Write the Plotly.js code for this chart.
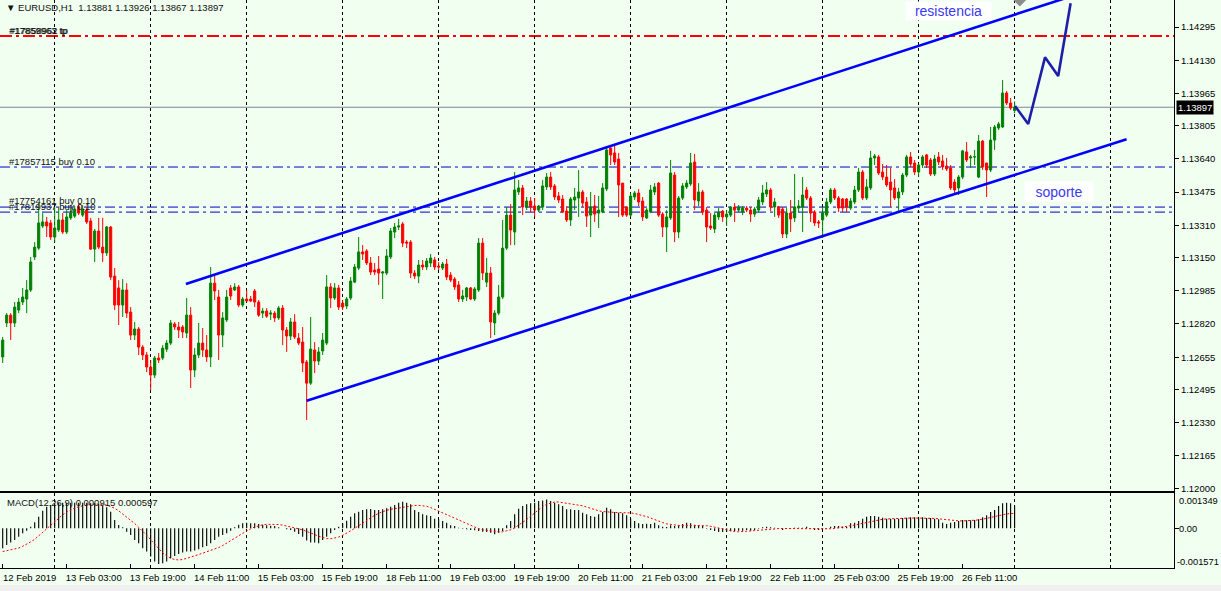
<!DOCTYPE html>
<html><head><meta charset="utf-8">
<script src="https://cdn.plot.ly/plotly-3.0.1.min.js"></script>
<style>html,body{margin:0;padding:0;background:#F0FFF0;overflow:hidden}</style>
</head><body><div id="chart" style="width:1221px;height:591px"></div>
<script>
// ---- EURUSD H1 candles (bar 0 = 12 Feb 2019 11:00) ----
const openPrices = [
1.12656,1.12825,1.12864,1.12825,1.12889,1.12929,1.12944,1.12989,1.13153,1.13197,
1.13307,1.13327,1.13322,1.13252,1.13287,1.13337,1.13277,1.13347,1.13356,1.13401,
1.13361,1.13386,1.13332,1.13192,1.13282,1.13202,1.13173,1.13302,1.13058,1.12999,
1.12914,1.12989,1.12879,1.12765,1.12795,1.12705,1.12666,1.12606,1.12566,1.12651,
1.12651,1.12695,1.12725,1.12820,1.12805,1.12805,1.12775,1.12864,1.12591,1.12666,
1.12725,1.12691,1.12656,1.13023,1.12954,1.12765,1.12840,1.12999,1.12989,1.13004,
1.12914,1.12944,1.12944,1.12984,1.12929,1.12874,1.12884,1.12869,1.12874,1.12850,
1.12899,1.12790,1.12760,1.12830,1.12750,1.12730,1.12631,1.12526,1.12691,1.12636,
1.12686,1.12725,1.13004,1.12949,1.12999,1.12924,1.12909,1.12949,1.13028,1.13098,
1.13178,1.13183,1.13123,1.13088,1.13093,1.13073,1.13073,1.13153,1.13277,1.13302,
1.13317,1.13227,1.13227,1.13073,1.13058,1.13113,1.13103,1.13123,1.13138,1.13108,
1.13098,1.13118,1.13063,1.13043,1.13014,1.12944,1.12954,1.12999,1.12944,1.12989,
1.13222,1.13028,1.13073,1.12825,1.12874,1.12954,1.13197,1.13361,1.13277,1.13476,
1.13496,1.13401,1.13431,1.13406,1.13386,1.13401,1.13501,1.13550,1.13506,1.13456,
1.13441,1.13381,1.13337,1.13436,1.13446,1.13476,1.13426,1.13361,1.13406,1.13371,
1.13376,1.13491,1.13694,1.13670,1.13640,1.13520,1.13401,1.13361,1.13451,1.13471,
1.13431,1.13347,1.13376,1.13476,1.13520,1.13366,1.13302,1.13347,1.13560,1.13277,
1.13446,1.13501,1.13516,1.13625,1.13431,1.13476,1.13386,1.13307,1.13292,1.13352,
1.13381,1.13352,1.13361,1.13401,1.13386,1.13376,1.13396,1.13386,1.13366,1.13386,
1.13426,1.13466,1.13486,1.13401,1.13401,1.13391,1.13267,1.13371,1.13347,1.13396,
1.13401,1.13486,1.13446,1.13376,1.13327,1.13337,1.13361,1.13426,1.13486,1.13446,
1.13441,1.13441,1.13396,1.13426,1.13486,1.13575,1.13446,1.13496,1.13645,1.13650,
1.13575,1.13550,1.13525,1.13496,1.13446,1.13476,1.13560,1.13650,1.13620,1.13575,
1.13610,1.13660,1.13635,1.13565,1.13650,1.13630,1.13605,1.13595,1.13525,1.13496,
1.13550,1.13675,1.13645,1.13650,1.13550,1.13729,1.13620,1.13585,1.13734,1.13794,
1.13799,1.13968,1.13918,1.13881];
const highPrices = [
1.12755,1.12874,1.12874,1.12929,1.12949,1.12999,1.13038,1.13153,1.13227,1.13421,
1.13371,1.13352,1.13337,1.13401,1.13401,1.13371,1.13386,1.13396,1.13406,1.13421,
1.13411,1.13401,1.13347,1.13292,1.13347,1.13347,1.13307,1.13307,1.13098,1.13038,
1.13043,1.13023,1.12904,1.12830,1.12805,1.12715,1.12681,1.12641,1.12661,1.12676,
1.12715,1.12740,1.12840,1.12830,1.12830,1.12815,1.12949,1.12904,1.12700,1.12825,
1.12800,1.12765,1.13103,1.13063,1.12989,1.12879,1.12989,1.13014,1.13023,1.13014,
1.12954,1.12989,1.12959,1.12994,1.12939,1.12899,1.12899,1.12889,1.12884,1.12909,
1.12914,1.12805,1.12850,1.12869,1.12775,1.12805,1.12641,1.12855,1.12730,1.12705,
1.12775,1.13063,1.13023,1.13023,1.13014,1.12939,1.12954,1.13053,1.13118,1.13252,
1.13212,1.13192,1.13153,1.13123,1.13158,1.13083,1.13192,1.13297,1.13322,1.13342,
1.13327,1.13237,1.13237,1.13088,1.13138,1.13138,1.13148,1.13168,1.13153,1.13128,
1.13128,1.13143,1.13078,1.13053,1.13033,1.12989,1.13004,1.13004,1.13004,1.13247,
1.13247,1.13148,1.13103,1.12889,1.13014,1.13337,1.13401,1.13416,1.13575,1.13535,
1.13511,1.13451,1.13451,1.13446,1.13411,1.13535,1.13570,1.13575,1.13516,1.13476,
1.13461,1.13406,1.13451,1.13496,1.13585,1.13486,1.13451,1.13476,1.13461,1.13456,
1.13520,1.13694,1.13699,1.13709,1.13670,1.13520,1.13406,1.13471,1.13481,1.13491,
1.13451,1.13396,1.13511,1.13520,1.13525,1.13376,1.13386,1.13635,1.13575,1.13456,
1.13520,1.13535,1.13670,1.13665,1.13520,1.13486,1.13401,1.13371,1.13371,1.13396,
1.13386,1.13386,1.13406,1.13421,1.13411,1.13406,1.13406,1.13401,1.13401,1.13451,
1.13511,1.13525,1.13496,1.13446,1.13406,1.13401,1.13396,1.13436,1.13565,1.13436,
1.13550,1.13501,1.13456,1.13386,1.13337,1.13401,1.13446,1.13496,1.13496,1.13456,
1.13446,1.13446,1.13446,1.13506,1.13596,1.13585,1.13540,1.13680,1.13665,1.13660,
1.13615,1.13610,1.13596,1.13540,1.13496,1.13570,1.13660,1.13675,1.13635,1.13620,
1.13660,1.13665,1.13645,1.13660,1.13675,1.13660,1.13645,1.13610,1.13540,1.13560,
1.13685,1.13724,1.13660,1.13685,1.13759,1.13734,1.13620,1.13799,1.13809,1.13824,
1.14032,1.13978,1.13943,1.13926];
const lowPrices = [
1.12626,1.12805,1.12740,1.12805,1.12874,1.12914,1.12874,1.12979,1.13138,1.13188,
1.13297,1.13252,1.13237,1.13227,1.13277,1.13267,1.13267,1.13337,1.13347,1.13361,
1.13352,1.13317,1.13188,1.13128,1.13192,1.13128,1.13158,1.13038,1.12889,1.12815,
1.12855,1.12850,1.12740,1.12740,1.12666,1.12641,1.12581,1.12492,1.12551,1.12626,
1.12641,1.12681,1.12715,1.12790,1.12750,1.12750,1.12750,1.12502,1.12556,1.12651,
1.12656,1.12631,1.12606,1.12939,1.12641,1.12705,1.12830,1.12939,1.12984,1.12904,
1.12904,1.12929,1.12929,1.12904,1.12855,1.12850,1.12850,1.12840,1.12830,1.12840,
1.12715,1.12681,1.12740,1.12745,1.12715,1.12581,1.12343,1.12517,1.12576,1.12616,
1.12666,1.12715,1.12899,1.12939,1.12889,1.12889,1.12894,1.12939,1.13023,1.13088,
1.13138,1.13113,1.13063,1.13063,1.13014,1.12944,1.13063,1.13143,1.13247,1.13287,
1.13202,1.13197,1.13048,1.13043,1.13023,1.13088,1.13088,1.13103,1.13088,1.13088,
1.13088,1.13038,1.13028,1.12989,1.12929,1.12929,1.12934,1.12939,1.12934,1.12979,
1.13038,1.13004,1.12750,1.12765,1.12864,1.12944,1.13188,1.13212,1.13212,1.13461,
1.13361,1.13386,1.13376,1.13352,1.13376,1.13386,1.13486,1.13486,1.13436,1.13421,
1.13371,1.13327,1.13307,1.13386,1.13352,1.13401,1.13302,1.13252,1.13327,1.13297,
1.13371,1.13481,1.13610,1.13610,1.13352,1.13352,1.13352,1.13352,1.13436,1.13406,
1.13332,1.13342,1.13371,1.13461,1.13352,1.13252,1.13178,1.13337,1.13227,1.13247,
1.13436,1.13491,1.13506,1.13386,1.13406,1.13361,1.13227,1.13287,1.13272,1.13337,
1.13327,1.13307,1.13352,1.13327,1.13376,1.13361,1.13376,1.13327,1.13352,1.13376,
1.13411,1.13451,1.13381,1.13352,1.13347,1.13247,1.13247,1.13277,1.13327,1.13376,
1.13277,1.13436,1.13327,1.13307,1.13297,1.13247,1.13352,1.13416,1.13436,1.13376,
1.13376,1.13376,1.13386,1.13416,1.13476,1.13436,1.13436,1.13486,1.13610,1.13560,
1.13535,1.13501,1.13401,1.13436,1.13376,1.13461,1.13550,1.13600,1.13560,1.13550,
1.13595,1.13595,1.13555,1.13555,1.13610,1.13585,1.13580,1.13486,1.13461,1.13461,
1.13540,1.13625,1.13595,1.13610,1.13545,1.13585,1.13451,1.13575,1.13685,1.13784,
1.13794,1.13908,1.13883,1.13867];
const closePrices = [
1.12740,1.12864,1.12825,1.12904,1.12929,1.12954,1.12989,1.13128,1.13202,1.13322,
1.13327,1.13307,1.13252,1.13297,1.13337,1.13277,1.13352,1.13371,1.13391,1.13371,
1.13391,1.13327,1.13192,1.13282,1.13202,1.13173,1.13302,1.13053,1.12914,1.12914,
1.12989,1.12874,1.12765,1.12795,1.12705,1.12666,1.12606,1.12566,1.12651,1.12641,
1.12700,1.12725,1.12825,1.12805,1.12790,1.12780,1.12864,1.12591,1.12666,1.12725,
1.12691,1.12656,1.13023,1.12984,1.12765,1.12850,1.12954,1.12959,1.13004,1.12914,
1.12944,1.12934,1.12934,1.12929,1.12864,1.12884,1.12859,1.12874,1.12850,1.12899,
1.12790,1.12760,1.12830,1.12755,1.12725,1.12626,1.12526,1.12695,1.12636,1.12681,
1.12740,1.13004,1.12949,1.12999,1.12904,1.12904,1.12944,1.13033,1.13103,1.13178,
1.13168,1.13123,1.13078,1.13078,1.13073,1.13078,1.13158,1.13282,1.13302,1.13307,
1.13222,1.13222,1.13073,1.13058,1.13113,1.13103,1.13133,1.13148,1.13103,1.13103,
1.13118,1.13053,1.13038,1.13004,1.12944,1.12959,1.12999,1.12944,1.12994,1.13222,
1.13073,1.13073,1.12830,1.12874,1.12954,1.13197,1.13361,1.13287,1.13486,1.13496,
1.13401,1.13431,1.13401,1.13386,1.13406,1.13506,1.13550,1.13501,1.13451,1.13436,
1.13376,1.13337,1.13441,1.13451,1.13476,1.13421,1.13356,1.13401,1.13366,1.13386,
1.13496,1.13685,1.13660,1.13625,1.13511,1.13361,1.13361,1.13456,1.13471,1.13426,
1.13352,1.13386,1.13486,1.13501,1.13361,1.13302,1.13352,1.13570,1.13277,1.13446,
1.13506,1.13520,1.13620,1.13436,1.13476,1.13376,1.13302,1.13297,1.13361,1.13376,
1.13352,1.13366,1.13401,1.13386,1.13401,1.13396,1.13386,1.13366,1.13391,1.13436,
1.13471,1.13486,1.13401,1.13426,1.13361,1.13267,1.13371,1.13342,1.13401,1.13406,
1.13461,1.13446,1.13371,1.13322,1.13322,1.13371,1.13426,1.13486,1.13446,1.13396,
1.13396,1.13401,1.13431,1.13486,1.13575,1.13446,1.13501,1.13645,1.13655,1.13570,
1.13550,1.13511,1.13486,1.13446,1.13476,1.13560,1.13650,1.13615,1.13575,1.13610,
1.13650,1.13610,1.13565,1.13640,1.13625,1.13600,1.13590,1.13496,1.13486,1.13550,
1.13680,1.13635,1.13650,1.13651,1.13729,1.13600,1.13585,1.13734,1.13799,1.13814,
1.13968,1.13918,1.13893,1.13897];

// ---- MACD(12,26,9): main (histogram) and signal ----
const macdMain = [
-0.000798,-0.000665,-0.000572,-0.000466,-0.000333,-0.000200,-0.000093,0.000067,0.000239,0.000466,
0.000705,0.000865,0.000931,0.000998,0.001024,0.001024,0.001024,0.001024,0.001024,0.001024,
0.001024,0.001024,0.000998,0.000998,0.000971,0.000891,0.000838,0.000665,0.000333,0.000133,
0.000040,-0.000133,-0.000266,-0.000466,-0.000599,-0.000798,-0.000931,-0.001131,-0.001330,-0.001423,
-0.001397,-0.001330,-0.001197,-0.001104,-0.001024,-0.000971,-0.000931,-0.000931,-0.000891,-0.000838,
-0.000758,-0.000705,-0.000599,-0.000466,-0.000333,-0.000266,-0.000200,-0.000093,0.000040,0.000146,
0.000200,0.000226,0.000200,0.000200,0.000173,0.000146,0.000120,0.000106,0.000093,0.000040,
0.000005,-0.000040,-0.000067,-0.000133,-0.000226,-0.000333,-0.000492,-0.000572,-0.000572,-0.000599,
-0.000466,-0.000333,-0.000200,-0.000067,0.000067,0.000200,0.000306,0.000466,0.000599,0.000665,
0.000732,0.000758,0.000771,0.000732,0.000732,0.000758,0.000798,0.000865,0.000931,0.001024,
0.001064,0.001024,0.000958,0.000732,0.000652,0.000559,0.000519,0.000492,0.000386,0.000359,
0.000293,0.000226,0.000120,0.000093,0.000027,-0.000013,-0.000040,-0.000067,-0.000080,-0.000106,
-0.000133,-0.000146,-0.000173,-0.000239,-0.000173,-0.000106,0.000120,0.000293,0.000559,0.000785,
0.000891,0.000958,0.000998,0.001024,0.001091,0.001117,0.001157,0.001091,0.001024,0.000958,
0.000891,0.000758,0.000758,0.000732,0.000732,0.000625,0.000559,0.000492,0.000466,0.000559,
0.000652,0.000825,0.000758,0.000652,0.000625,0.000599,0.000519,0.000386,0.000293,0.000200,
0.000173,0.000186,0.000173,0.000226,0.000120,0.000067,0.000053,0.000120,0.000093,0.000120,
0.000173,0.000226,0.000200,0.000146,0.000120,0.000093,-0.000013,-0.000067,-0.000106,-0.000146,
-0.000146,-0.000133,-0.000120,-0.000106,-0.000093,-0.000093,-0.000067,-0.000093,-0.000067,-0.000013,
0.000040,0.000067,0.000040,0.000027,-0.000013,-0.000067,-0.000013,-0.000013,0.000027,0.000027,
0.000027,0.000067,-0.000013,-0.000067,-0.000067,-0.000040,-0.000013,0.000067,0.000093,0.000093,
0.000067,0.000067,0.000200,0.000226,0.000293,0.000386,0.000466,0.000492,0.000492,0.000466,
0.000426,0.000386,0.000386,0.000386,0.000386,0.000412,0.000426,0.000439,0.000439,0.000439,
0.000439,0.000412,0.000412,0.000386,0.000359,0.000226,0.000173,0.000226,0.000253,0.000293,
0.000333,0.000319,0.000319,0.000333,0.000359,0.000439,0.000519,0.000652,0.000732,0.000891,
0.000998,0.001024,0.000998,0.000915];
const macdSignal = [
-0.000931,-0.000900,-0.000870,-0.000830,-0.000790,-0.000720,-0.000640,-0.000540,-0.000440,-0.000300,
-0.000150,0.000000,0.000150,0.000290,0.000420,0.000540,0.000650,0.000740,0.000810,0.000860,
0.000900,0.000930,0.000955,0.000970,0.000975,0.000960,0.000930,0.000880,0.000800,0.000700,
0.000580,0.000460,0.000330,0.000190,0.000040,-0.000110,-0.000280,-0.000460,-0.000640,-0.000820,
-0.000980,-0.001110,-0.001200,-0.001250,-0.001265,-0.001250,-0.001210,-0.001160,-0.001100,-0.001050,
-0.001000,-0.000950,-0.000900,-0.000840,-0.000770,-0.000690,-0.000600,-0.000500,-0.000400,-0.000300,
-0.000200,-0.000100,-0.000020,0.000050,0.000100,0.000140,0.000160,0.000165,0.000160,0.000150,
0.000125,0.000095,0.000060,0.000020,-0.000020,-0.000065,-0.000120,-0.000185,-0.000250,-0.000320,
-0.000380,-0.000410,-0.000420,-0.000400,-0.000350,-0.000280,-0.000200,-0.000100,0.000000,0.000110,
0.000220,0.000330,0.000430,0.000520,0.000600,0.000670,0.000720,0.000760,0.000790,0.000820,
0.000850,0.000880,0.000900,0.000915,0.000918,0.000905,0.000880,0.000830,0.000760,0.000670,
0.000600,0.000540,0.000480,0.000410,0.000340,0.000280,0.000200,0.000120,0.000040,-0.000020,
-0.000060,-0.000090,-0.000120,-0.000140,-0.000150,-0.000140,-0.000110,-0.000060,0.000020,0.000120,
0.000230,0.000350,0.000480,0.000620,0.000750,0.000870,0.000960,0.001020,0.001050,0.001050,
0.001030,0.001010,0.000990,0.000970,0.000940,0.000900,0.000850,0.000790,0.000740,0.000700,
0.000670,0.000650,0.000640,0.000635,0.000630,0.000630,0.000625,0.000615,0.000590,0.000560,
0.000520,0.000470,0.000410,0.000340,0.000280,0.000230,0.000180,0.000150,0.000130,0.000115,
0.000110,0.000110,0.000112,0.000115,0.000118,0.000118,0.000105,0.000080,0.000040,0.000000,
-0.000040,-0.000080,-0.000110,-0.000130,-0.000140,-0.000135,-0.000120,-0.000105,-0.000090,-0.000075,
-0.000055,-0.000035,-0.000025,-0.000015,-0.000012,-0.000010,-0.000010,-0.000010,-0.000012,-0.000012,
-0.000010,-0.000010,-0.000015,-0.000025,-0.000035,-0.000040,-0.000035,-0.000020,0.000000,0.000020,
0.000045,0.000070,0.000100,0.000130,0.000165,0.000200,0.000240,0.000280,0.000315,0.000340,
0.000360,0.000375,0.000385,0.000390,0.000395,0.000400,0.000405,0.000410,0.000412,0.000414,
0.000414,0.000412,0.000405,0.000395,0.000380,0.000360,0.000340,0.000320,0.000305,0.000298,
0.000295,0.000298,0.000305,0.000315,0.000335,0.000365,0.000400,0.000440,0.000480,0.000520,
0.000555,0.000575,0.000590,0.000597];

// ---- axis labels ----
const dateLabels = ['12 Feb 2019','13 Feb 03:00','13 Feb 19:00','14 Feb 11:00','15 Feb 03:00','15 Feb 19:00',
  '18 Feb 11:00','19 Feb 03:00','19 Feb 19:00','20 Feb 11:00','21 Feb 03:00','21 Feb 19:00',
  '22 Feb 11:00','25 Feb 03:00','25 Feb 19:00','26 Feb 11:00'];
const dateLabelBars = [0,16,32,48,64,80,96,112,128,144,160,176,192,208,224,240];
const dayStartBars = [13,37,61,85,109,133,157,181,205,229,253,277];
const priceTicks = [1.14295,1.14130,1.13965,1.13805,1.13640,1.13475,1.13310,1.13150,1.12985,1.12820,1.12655,1.12495,1.12330,1.12165,1.12000];
const macdTickText = ['0.001349','0.00','-0.001571'];

// ---- objects drawn on the chart ----
const tpLevel = 1.14251;
const buyLevels = [1.13600, 1.13401, 1.13376];
const buyLabels = ['#17857115 buy 0.10', '#17754161 buy 0.10', '#17819937 buy 0.10'];
const bidPrice = 1.13897;
const upperChannelX = [45.8, 266.0];
const upperChannelY = [1.13019, 1.14441];
const lowerChannelX = [76.0, 281.0];
const lowerChannelY = [1.12439, 1.13738];
const projectionX = [253.1, 256.4, 260.6, 263.9, 267.0];
const projectionY = [1.13903, 1.13814, 1.14145, 1.14052, 1.14414];

const bars = openPrices.map((_, i) => i);
const FONT = 'Liberation Sans, Arial, sans-serif';
const BG = '#F0FFF0';
const PW = 1174, PH = 568;   // plot area in px
const px = x => x / PW;
const py = y => 1 - y / PH;

const traces = [
  {type:'candlestick', x:bars, open:openPrices, high:highPrices, low:lowPrices, close:closePrices,
   xaxis:'x', yaxis:'y', whiskerwidth:0,
   increasing:{line:{color:'#008000', width:1}, fillcolor:'#008000'},
   decreasing:{line:{color:'#FF0000', width:1}, fillcolor:'#FF0000'},
   hoverinfo:'skip', showlegend:false},
  {type:'scatter', mode:'lines', x:upperChannelX, y:upperChannelY, xaxis:'x', yaxis:'y',
   line:{color:'#0000FF', width:2.6}, hoverinfo:'skip', showlegend:false},
  {type:'scatter', mode:'lines', x:lowerChannelX, y:lowerChannelY, xaxis:'x', yaxis:'y',
   line:{color:'#0000FF', width:2.6}, hoverinfo:'skip', showlegend:false},
  {type:'scatter', mode:'lines', x:projectionX, y:projectionY, xaxis:'x', yaxis:'y',
   line:{color:'#1E1EA8', width:2.6}, hoverinfo:'skip', showlegend:false},
  {type:'scatter', mode:'markers', x:[254.3], y:[1.14440], xaxis:'x', yaxis:'y',
   marker:{symbol:'diamond', size:13, color:'#8C8C8C'}, hoverinfo:'skip', showlegend:false},
  {type:'bar', x:bars, y:macdMain, xaxis:'x2', yaxis:'y2', width:0.28,
   marker:{color:'#000000', line:{width:0}}, hoverinfo:'skip', showlegend:false},
  {type:'scatter', mode:'lines', x:bars, y:macdSignal, xaxis:'x2', yaxis:'y2',
   line:{color:'#FF0000', width:1, dash:'2px,2px'}, hoverinfo:'skip', showlegend:false}
];

const xRange = [-0.675, 292.85];
const gridDash = '3px,3px';

const shapes = [
  {type:'line', xref:'x domain', x0:0, x1:1, yref:'y', y0:tpLevel, y1:tpLevel, layer:'below',
   line:{color:'#FF0000', width:2, dash:'12px,4px,3px,4px'}},
  {type:'line', xref:'x domain', x0:0, x1:1, yref:'y', y0:bidPrice, y1:bidPrice, layer:'below',
   line:{color:'#7A8A99', width:1}},
  {type:'rect', xref:'paper', yref:'paper', x0:-0.01, x1:1.05, y0:py(585), y1:py(592),
   fillcolor:'#F0F0F0', line:{width:0}}
];
buyLevels.forEach(v => shapes.push({type:'line', xref:'x domain', x0:0, x1:1, yref:'y', y0:v, y1:v,
  layer:'below', line:{color:'#0000C8', width:1, dash:'10px,4px,3px,4px'}}));

const txt = (t, x, y, extra) => Object.assign({text:t, xref:'paper', yref:'paper', x:px(x), y:py(y),
  xanchor:'left', yanchor:'middle', showarrow:false, font:{family:FONT, size:9.5, color:'#111'}}, extra||{});

// MACD window scale labels (MT4 draws them just inside the window's top/bottom)
const macdLabelY = [501, 528.5, 562];
const annotations = [
  txt('\u25BC\u00A0EURUSD,H1\u00A0\u00A01.13881 1.13926 1.13867 1.13897', 4, 8),
  txt('#17859963 tp', 7, 31),
  txt('#17858962 tp', 7.5, 31),
  txt(buyLabels[0], 7, 161.5),
  txt(buyLabels[1], 7, 200.5),
  txt(buyLabels[2], 7, 206),
  txt('MACD(12,26,9) 0.000915 0.000597', 5, 502),
  {text:'1.13897', xref:'paper', x:1, xshift:2, xanchor:'left', yref:'y', y:bidPrice, yanchor:'middle',
   showarrow:false, bgcolor:'#000000', borderpad:1, font:{family:FONT, size:9.5, color:'#FFFFFF'}},
  {text:'resistencia', xref:'x', x:236.45, yref:'y', y:1.14375, xanchor:'center', yanchor:'middle',
   width:85, height:18, align:'center', bgcolor:'#FFFFFF', borderpad:0, showarrow:false,
   font:{family:FONT, size:14, color:'#3A3AF0'}},
  {text:'soporte', xref:'x', x:264.1, yref:'y', y:1.13478, xanchor:'center', yanchor:'middle',
   width:68, height:19, align:'center', bgcolor:'#FFFFFF', borderpad:0, showarrow:false,
   font:{family:FONT, size:14, color:'#3A3AF0'}}
];
macdTickText.forEach((t, k) => annotations.push({text:t, xref:'paper', x:1, xshift:k === 2 ? 1 : 3,
  xanchor:'left', yref:'paper', y:py(macdLabelY[k]), yanchor:'middle', showarrow:false,
  font:{family:FONT, size:9.3, color:'#000'}}));

const layout = {
  width:1221, height:591,
  margin:{l:0, r:47, t:0, b:23, pad:0},
  paper_bgcolor:BG, plot_bgcolor:BG,
  font:{family:FONT, size:9.5, color:'#000'},
  showlegend:false, boxgap:0.25,
  xaxis:{domain:[0,1], anchor:'y', range:xRange, tickmode:'array', tickvals:dayStartBars,
    showticklabels:false, ticks:'', showgrid:true, gridcolor:'#000', griddash:gridDash, gridwidth:1,
    zeroline:false, showline:true, linecolor:'#000', linewidth:1, mirror:true,
    rangeslider:{visible:false}, fixedrange:true},
  yaxis:{domain:[1-491/PH, 1], anchor:'x', range:[1.11990, 1.14430], side:'right',
    tickmode:'array', tickvals:priceTicks, tickformat:'.5f', ticks:'outside', ticklen:4, tickcolor:'#000',
    showgrid:false, zeroline:false, showline:true, linecolor:'#000', linewidth:1, mirror:true,
    tickfont:{family:FONT, size:9.5, color:'#000'}, fixedrange:true},
  xaxis2:{domain:[0,1], anchor:'y2', range:xRange, tickmode:'array', tickvals:dateLabelBars, ticktext:dateLabels,
    ticks:'inside', ticklen:4, tickcolor:'#000', ticklabelshift:27, ticklabelstandoff:1,
    showgrid:false, zeroline:false, showline:true, linecolor:'#000', linewidth:1, mirror:true,
    minor:{tickmode:'array', tickvals:dayStartBars, showgrid:true, gridcolor:'#000', griddash:gridDash, gridwidth:1, ticks:''},
    tickfont:{family:FONT, size:9.5, color:'#000'}, fixedrange:true},
  yaxis2:{domain:[0, 75/PH], anchor:'x2', range:[-0.001588, 0.001412], side:'right',
    tickmode:'array', tickvals:[0], showticklabels:false,
    ticks:'outside', ticklen:4, tickcolor:'#000',
    showgrid:false, zeroline:false, showline:true, linecolor:'#000', linewidth:1, mirror:true,
    fixedrange:true},
  shapes:shapes, annotations:annotations
};

Plotly.newPlot('chart', traces, layout, {displayModeBar:false, staticPlot:true});
</script></body></html>
